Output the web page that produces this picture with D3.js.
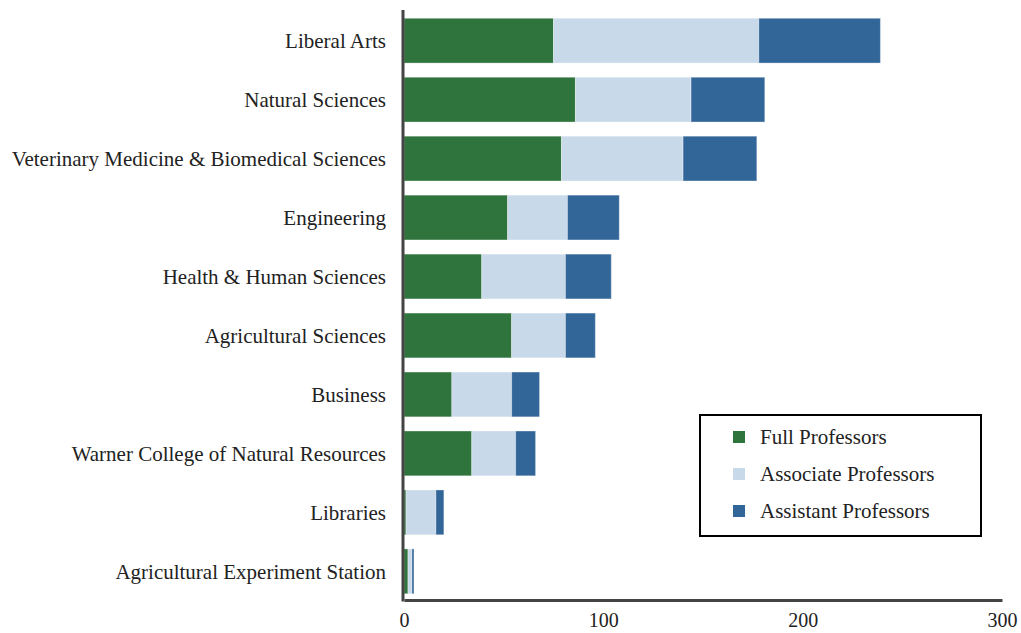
<!DOCTYPE html>
<html>
<head>
<meta charset="utf-8">
<script src="https://cdn.jsdelivr.net/npm/d3@7"></script>
<style>
  body { margin: 0; background: #fff; }
  text { font-family: "Liberation Serif", "DejaVu Serif", serif; fill: #222; }
</style>
</head>
<body>
<div id="graph"></div>
<script>
var categories = [
    "Liberal Arts",
    "Natural Sciences",
    "Veterinary Medicine & Biomedical Sciences",
    "Engineering",
    "Health & Human Sciences",
    "Agricultural Sciences",
    "Business",
    "Warner College of Natural Resources",
    "Libraries",
    "Agricultural Experiment Station"
];
var seriesNames = ["Full Professors", "Associate Professors", "Assistant Professors"];
var fullProfessors = [75, 86, 79, 52, 39, 54, 24, 34, 1, 2];
var associateProfessors = [103, 58, 61, 30, 42, 27, 30, 22, 15, 2];
var assistantProfessors = [61, 37, 37, 26, 23, 15, 14, 10, 4, 1];
var xTicks = [0, 100, 200, 300];

var width = 1021,
    height = 633,
    plotLeft = 404,
    plotRight = 1002,
    plotTop = 10,
    plotBottom = 600;

var colors = ["#2e743c", "#c8d9ea", "#326699"];

var svg = d3.select('#graph')
    .append('svg')
    .attr('width', width)
    .attr('height', height);

var x = d3.scaleLinear()
    .domain([0, 300])
    .range([plotLeft, plotRight]);

var y = d3.scaleBand()
    .domain(categories)
    .range([plotTop, plotBottom + 2])
    .paddingInner(0.24)
    .paddingOuter(0.14);

var rows = categories.map(function(c, i) {
    return { category: c, full: fullProfessors[i], assoc: associateProfessors[i], assist: assistantProfessors[i] };
});
var stack = d3.stack().keys(["full", "assoc", "assist"])(rows);

// bars
svg.append('g').selectAll('g')
    .data(stack)
    .enter()
    .append('g')
    .attr('fill', function(d, i) { return colors[i]; })
    .selectAll('rect')
    .data(function(d) { return d; })
    .enter()
    .append('rect')
    .attr('x', function(d) { return x(d[0]); })
    .attr('y', function(d) { return y(d.data.category); })
    .attr('width', function(d) { return x(d[1]) - x(d[0]); })
    .attr('height', y.bandwidth())
    .attr('stroke', 'rgba(255,255,255,0.35)')
    .attr('stroke-width', 1);

// category labels
svg.append('g').selectAll('text')
    .data(categories)
    .enter()
    .append('text')
    .attr('x', plotLeft - 18)
    .attr('y', function(d) { return y(d) + y.bandwidth() / 2; })
    .attr('dy', '0.35em')
    .attr('text-anchor', 'end')
    .style('font-size', '21px')
    .text(function(d) { return d; });

// x axis
var xAxis = svg.append('g')
    .attr('transform', 'translate(0,' + plotBottom + ')')
    .call(d3.axisBottom(x).tickValues(xTicks).tickSize(0).tickPadding(13));
xAxis.select('.domain').attr('stroke', '#444').attr('stroke-width', 3);
xAxis.selectAll('text')
    .style('font-family', '"Liberation Serif", serif')
    .style('font-size', '20px')
    .attr('fill', '#222');

// y axis line
svg.append('line')
    .attr('x1', plotLeft - 1)
    .attr('x2', plotLeft - 1)
    .attr('y1', plotTop)
    .attr('y2', plotBottom + 1.5)
    .attr('stroke', '#444')
    .attr('stroke-width', 3);

// legend
var legend = svg.append('g').attr('transform', 'translate(700,415)');
legend.append('rect')
    .attr('width', 281)
    .attr('height', 121)
    .attr('fill', '#fff')
    .attr('stroke', '#000')
    .attr('stroke-width', 2);

var item = legend.selectAll('.item')
    .data(seriesNames)
    .enter()
    .append('g')
    .attr('class', 'item')
    .attr('transform', function(d, i) { return 'translate(0,' + (22 + i * 37) + ')'; });

item.append('rect')
    .attr('x', 33)
    .attr('y', -6)
    .attr('width', 12)
    .attr('height', 12)
    .attr('fill', function(d, i) { return colors[i]; });

item.append('text')
    .attr('x', 60)
    .attr('dy', '0.35em')
    .style('font-size', '21px')
    .text(function(d) { return d; });
</script>
</body>
</html>
